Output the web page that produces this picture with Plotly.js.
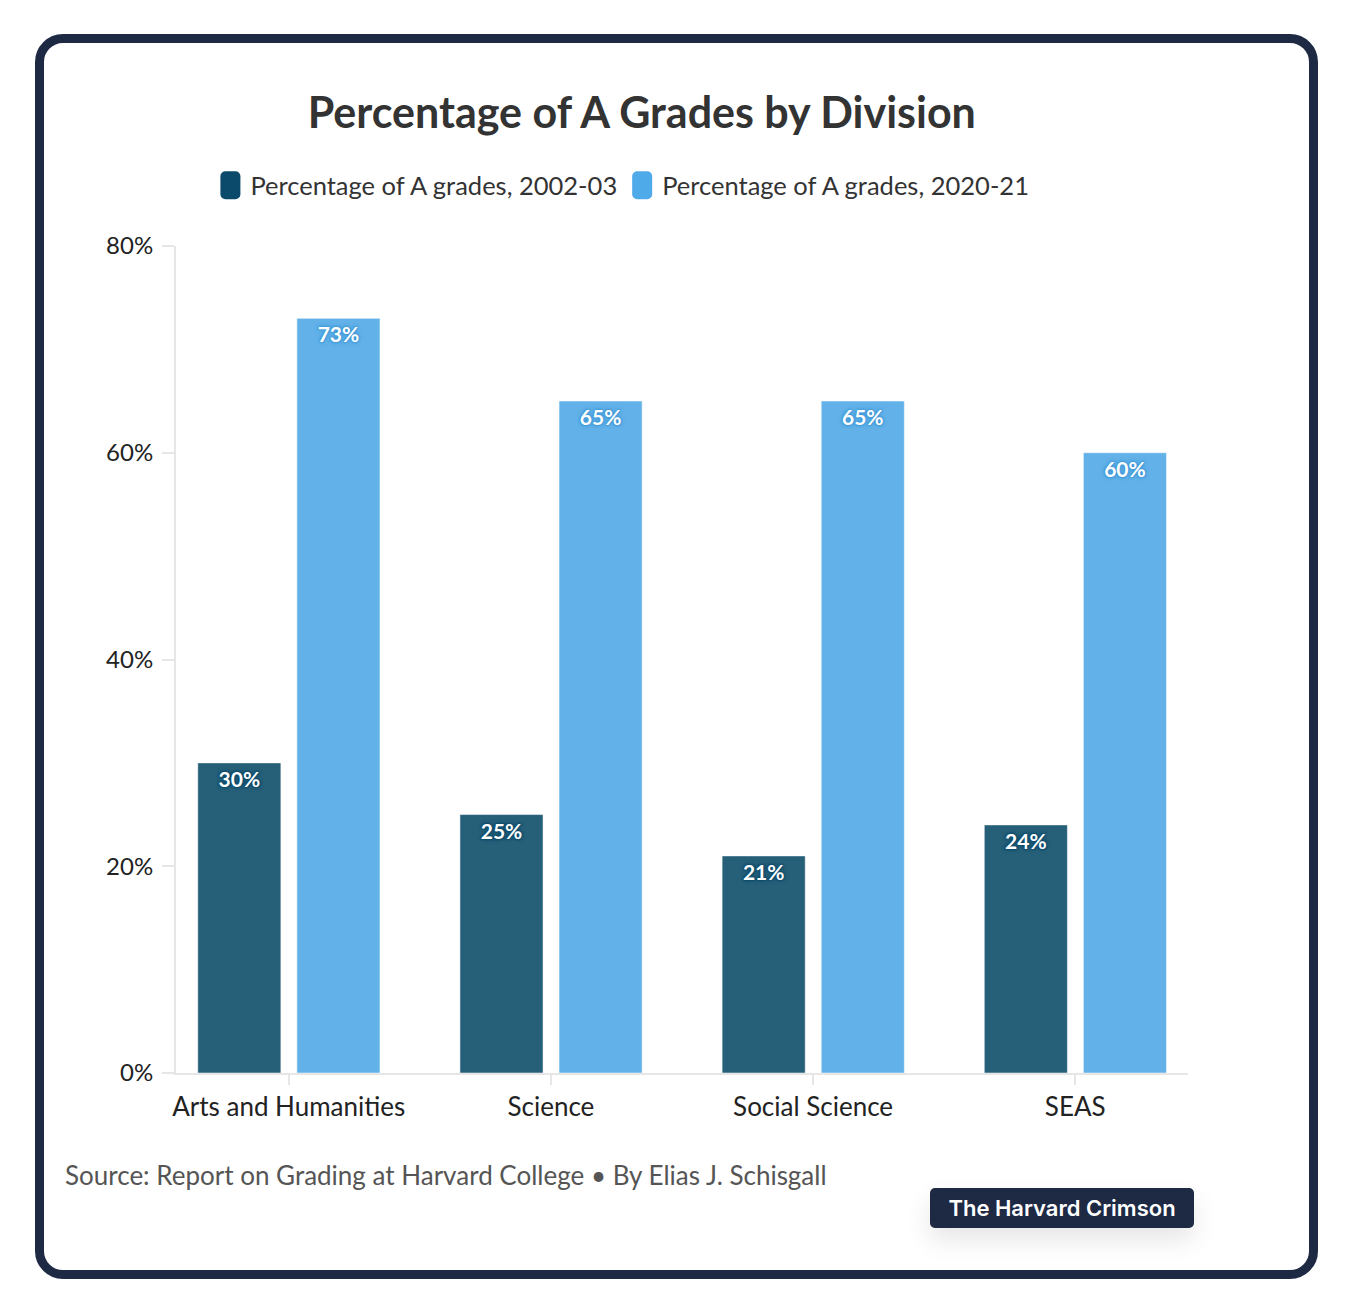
<!DOCTYPE html>
<html>
<head>
<meta charset="utf-8">
<script src="https://cdn.plot.ly/plotly-3.0.1.min.js"></script>
<style>
  html, body { margin: 0; padding: 0; background: #fff; }
  #frame {
    position: absolute; left: 35px; top: 34px;
    width: 1265px; height: 1227px;
    border: 9px solid #1e2a44; border-radius: 28px;
    background: #fff;
  }
  #chart { position: absolute; left: 0; top: 0; width: 1354px; height: 1314px; }
  #badge {
    position: absolute; left: 930px; top: 1188px;
    width: 264px; height: 40px; line-height: 40px;
    background: #1e2a44; color: #fff; border-radius: 5px;
    font-family: Inter, sans-serif; font-weight: 600; font-size: 22px;
    text-align: center;
    box-shadow: 0 12px 26px rgba(0,0,0,0.10);
  }
</style>
</head>
<body>
<div id="frame"></div>
<div id="chart"></div>
<div id="badge">The Harvard Crimson</div>
<script>
// values
const divisions = ['Arts and Humanities', 'Science', 'Social Science', 'SEAS'];
const pct2002 = [30, 25, 21, 24];
const pct2020 = [73, 65, 65, 60];
const yTicks = [0, 20, 40, 60, 80];
const legendColors = ['#0b4a6b', '#4faaea'];

const FONT = 'Lato, "Source Sans Pro", sans-serif';

function outline(c) {
  return '0 0 2px ' + c + ', 0 0 2px ' + c + ', 0 0 3px ' + c + ', 0 0 4px ' + c;
}

const trace1 = {
  type: 'bar',
  name: 'Percentage of A grades, 2002-03',
  x: divisions,
  y: pct2002,
  width: 0.317,
  offset: -0.347,
  marker: { color: '#265f78', line: { color: 'rgba(255,255,255,0.5)', width: 1 } },
  text: pct2002.map(v => v + '%'),
  textposition: 'inside',
  insidetextanchor: 'end',
  textangle: 0,
  textfont: { family: FONT, size: 21, weight: 'bold', color: '#fff', shadow: outline('#0b4a6b') },
  hoverinfo: 'skip',
};
const trace2 = {
  type: 'bar',
  name: 'Percentage of A grades, 2020-21',
  x: divisions,
  y: pct2020,
  width: 0.317,
  offset: 0.031,
  marker: { color: '#62b1e8', line: { color: 'rgba(255,255,255,0.5)', width: 1 } },
  text: pct2020.map(v => v + '%'),
  textposition: 'inside',
  insidetextanchor: 'end',
  textangle: 0,
  textfont: { family: FONT, size: 21, weight: 'bold', color: '#fff', shadow: outline('#3f98d6') },
  hoverinfo: 'skip',
};

const layout = {
  width: 1354,
  height: 1314,
  margin: { l: 176, r: 166, t: 246, b: 241 },
  paper_bgcolor: 'rgba(0,0,0,0)',
  plot_bgcolor: 'rgba(0,0,0,0)',
  font: { family: FONT, color: '#222' },
  barmode: 'group',
  showlegend: true,
  title: {
    text: '<b>Percentage of A Grades by Division</b>',
    font: { family: FONT, size: 43, color: '#333' },
    x: 0.474, xref: 'container', xanchor: 'center',
    y: 0.914, yref: 'container', yanchor: 'middle',
  },
  legend: {
    orientation: 'h',
    x: 0.034, xanchor: 'left',
    y: 1.073, yanchor: 'middle',
    font: { family: FONT, size: 25.5, color: '#333' },
    itemwidth: 30,
    traceorder: 'normal',
  },
  xaxis: {
    type: 'category',
    range: [-0.43, 3.43],
    showgrid: false,
    zeroline: false,
    showline: true,
    linecolor: '#e6e6e6',
    linewidth: 2,
    ticks: 'outside',
    ticklen: 10,
    tickwidth: 2,
    tickcolor: '#e6e6e6',
    tickfont: { family: FONT, size: 26, color: '#222' },
  },
  yaxis: {
    range: [0, 80],
    tickvals: yTicks,
    ticktext: yTicks.map(v => v + '%'),
    showgrid: false,
    zeroline: false,
    showline: true,
    linecolor: '#e6e6e6',
    linewidth: 2,
    ticks: 'outside',
    ticklen: 12,
    tickwidth: 2,
    tickcolor: '#e6e6e6',
    ticklabelstandoff: 4,
    tickfont: { family: FONT, size: 24, color: '#222' },
  },
  annotations: [{
    text: 'Source: Report on Grading at Harvard College • By Elias J. Schisgall',
    xref: 'paper', yref: 'paper',
    x: -0.1117, xanchor: 'left',
    y: -0.1233, yanchor: 'middle',
    showarrow: false,
    font: { family: FONT, size: 26, color: '#555' },
  }],
};

Plotly.newPlot('chart', [trace1, trace2], layout, { displayModeBar: false, staticPlot: true })
  .then(gd => {
    // taller rounded legend swatches like the original
    const swatch = 'M-5,-14H5A5,5 0 0 1 10,-9V9A5,5 0 0 1 5,14H-5A5,5 0 0 1 -10,9V-9A5,5 0 0 1 -5,-14Z';
    gd.querySelectorAll('.legend .traces').forEach((g, i) => {
      const p = g.querySelector('.legendpoints path');
      if (p) {
        p.setAttribute('d', swatch);
        p.style.fill = legendColors[i];
        p.style.stroke = 'none';
      }
    });
  });
</script>
</body>
</html>
